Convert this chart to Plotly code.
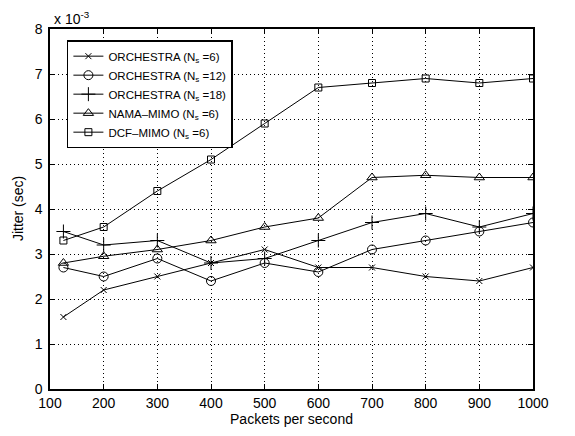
import plotly.graph_objects as go

x = [125, 200, 300, 400, 500, 600, 700, 800, 900, 1000]
orch6 = [1.6, 2.2, 2.5, 2.8, 3.1, 2.7, 2.7, 2.5, 2.4, 2.7]
orch12 = [2.7, 2.5, 2.9, 2.4, 2.8, 2.6, 3.1, 3.3, 3.5, 3.7]
orch18 = [3.5, 3.2, 3.3, 2.8, 2.9, 3.3, 3.7, 3.9, 3.6, 3.9]
nama = [2.8, 2.95, 3.1, 3.3, 3.6, 3.8, 4.7, 4.75, 4.7, 4.7]
dcf = [3.3, 3.6, 4.4, 5.1, 5.9, 6.7, 6.8, 6.9, 6.8, 6.9]

names = ["ORCHESTRA (N<sub>s</sub> =6)", "ORCHESTRA (N<sub>s</sub> =12)",
         "ORCHESTRA (N<sub>s</sub> =18)", "NAMA\u2013MIMO (N<sub>s</sub> =6)",
         "DCF\u2013MIMO (N<sub>s</sub> =6)"]
series = [orch6, orch12, orch18, nama, dcf]
symbols = ["x-thin-open", "circle-open", "cross-thin-open", "triangle-up-open", "square-open"]
sizes = [6, 9, 10, 9, 7]

fig = go.Figure()
for n, s, sym, sz in zip(names, series, symbols, sizes):
    fig.add_trace(go.Scatter(x=x, y=s, name=n, mode="lines+markers",
                             line=dict(color="black", width=1),
                             marker=dict(symbol=sym, size=sz, color="black",
                                         line=dict(color="black", width=1))))

axis_common = dict(showline=True, mirror="ticks", linecolor="black", linewidth=1.5,
                   ticks="inside", ticklen=5, tickcolor="black",
                   showgrid=True, gridcolor="black", griddash="1px,3px", gridwidth=1,
                   zeroline=False, tickfont=dict(size=14, color="black"), automargin=False)

fig.update_layout(
    width=575, height=436,
    margin=dict(l=50, r=42, t=29, b=47),
    paper_bgcolor="white", plot_bgcolor="white",
    font=dict(family="Liberation Sans, Arial, sans-serif", color="black", size=14),
    xaxis=dict(range=[100, 1000], tickvals=[100, 200, 300, 400, 500, 600, 700, 800, 900, 1000],
               title=dict(text="Packets per second", standoff=2, font=dict(size=14)), **axis_common),
    yaxis=dict(range=[0, 8], tickvals=[0, 1, 2, 3, 4, 5, 6, 7, 8],
               ticklabelstandoff=3, **axis_common),
    legend=dict(x=0.035, y=0.969, xanchor="left", yanchor="top",
                bgcolor="white", bordercolor="black", borderwidth=1.5,
                font=dict(size=11.5), tracegroupgap=0, itemwidth=30),
    showlegend=True,
    annotations=[
        dict(text="x 10<sup>-3</sup>", xref="paper", yref="paper", x=0.004, y=1.0,
             xanchor="left", yanchor="bottom", showarrow=False,
             font=dict(size=14, color="black")),
        dict(text="Jitter (sec)", xref="paper", yref="paper", x=-0.066, y=0.5,
             xanchor="center", yanchor="middle", textangle=-90, showarrow=False,
             font=dict(size=14, color="black")),
    ],
)

fig.write_html("out.html")
